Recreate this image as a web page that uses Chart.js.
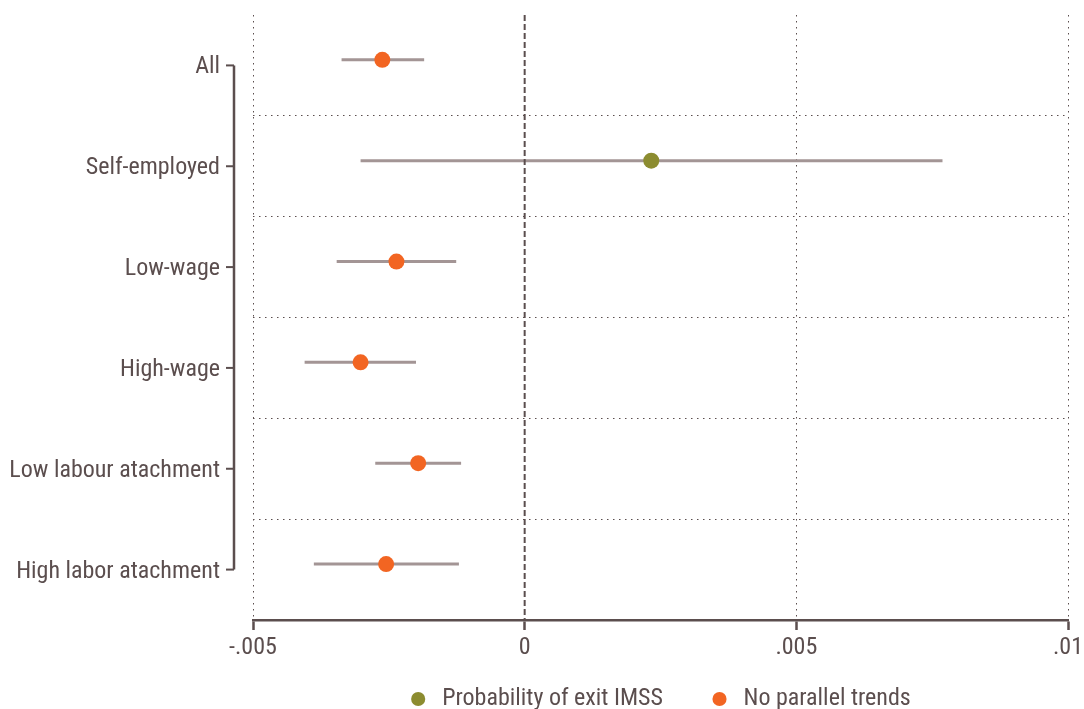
<!DOCTYPE html>
<html lang="en">
	<head>
		<meta charset="UTF-8">
		<title>Coefficient plot</title>
		<script src="https://cdn.jsdelivr.net/npm/chart.js"></script>
		<style>
			html, body { margin: 0; padding: 0; background: #fff; }
			#wrap { width: 1084px; height: 709px; position: relative; }
		</style>
	</head>
	<body>
		<div id="wrap"><canvas id="coefChart"></canvas></div>
		<script>
			// Data
			const categories = ['All', 'Self-employed', 'Low-wage', 'High-wage', 'Low labour atachment', 'High labor atachment'];
			const series = ['Probability of exit IMSS', 'No parallel trends'];
			const seriesOf = [1, 0, 1, 1, 1, 1]; // which series each row belongs to
			const estimates = [-0.00262, 0.00233, -0.00236, -0.00302, -0.00196, -0.00255];
			const ciLow = [-0.00337, -0.00302, -0.00346, -0.00405, -0.00275, -0.00388];
			const ciHigh = [-0.00185, 0.00769, -0.00126, -0.00200, -0.00117, -0.00121];
			const xTicks = [-0.005, 0, 0.005, 0.01];
			const xTickLabels = ['-.005', '0', '.005', '.01'];

			const ink = '#5b4e4e';
			const ciColor = '#a39595';
			const seriesColors = ['#8c8c30', '#f26522'];
			const FONT = "'Roboto Condensed', 'Liberation Sans Narrow', 'DejaVu Sans Condensed', Roboto, sans-serif";
			const markerShift = -0.055; // markers sit a little above the label line

			const rows = categories.map((_, i) => i + 1);

			// one dataset per series so the legend shows both
			const datasets = series.map((name, s) => ({
				label: name,
				data: rows.filter((r, i) => seriesOf[i] === s).map(r => ({ x: estimates[r - 1], y: r + markerShift })),
				backgroundColor: seriesColors[s],
				borderColor: seriesColors[s],
				pointRadius: 8,
				pointHoverRadius: 8,
				pointBorderWidth: 0,
				showLine: false
			}));

			// confidence intervals, drawn underneath the markers
			const ciPlugin = {
				id: 'ci',
				beforeDatasetsDraw(chart) {
					const { ctx, scales: { x, y } } = chart;
					ctx.save();
					ctx.strokeStyle = ciColor;
					ctx.lineWidth = 3;
					rows.forEach((r, i) => {
						const py = y.getPixelForValue(r + markerShift);
						ctx.beginPath();
						ctx.moveTo(x.getPixelForValue(ciLow[i]), py);
						ctx.lineTo(x.getPixelForValue(ciHigh[i]), py);
						ctx.stroke();
					});
					ctx.restore();
				}
			};

			// zero line, the y axis bracket, and legend centred under the plot region
			const axisPlugin = {
				id: 'axes',
				afterLayout(chart) {
					if (chart.legend) chart.legend.left = chart.chartArea.left - 4;
				},
				beforeDatasetsDraw(chart) {
					const { ctx, chartArea, scales: { x } } = chart;
					ctx.save();
					const x0 = x.getPixelForValue(0);
					ctx.strokeStyle = ink;
					ctx.lineWidth = 2;
					ctx.setLineDash([6, 3]);
					ctx.beginPath();
					ctx.moveTo(x0, chartArea.top);
					ctx.lineTo(x0, chartArea.bottom);
					ctx.stroke();
					ctx.restore();
				},
				afterDraw(chart) {
					const { ctx, chartArea, scales: { y } } = chart;
					const ax = chartArea.left - 19;
					ctx.save();
					ctx.strokeStyle = ink;
					ctx.lineWidth = 2.5;
					ctx.beginPath();
					ctx.moveTo(ax, y.getPixelForValue(1));
					ctx.lineTo(ax, y.getPixelForValue(categories.length));
					ctx.stroke();
					ctx.lineWidth = 2;
					rows.forEach(r => {
						const py = y.getPixelForValue(r);
						ctx.beginPath();
						ctx.moveTo(ax - 8, py);
						ctx.lineTo(ax, py);
						ctx.stroke();
					});
					ctx.restore();
				}
			};

			new Chart(document.getElementById('coefChart'), {
				type: 'scatter',
				data: { datasets: datasets },
				options: {
					responsive: true,
					maintainAspectRatio: false,
					animation: false,
					layout: { padding: { left: 10, right: 16, top: 15, bottom: 0 } },
					plugins: {
						tooltip: { enabled: false },
						legend: {
							position: 'bottom',
							maxHeight: 39,
							labels: {
								usePointStyle: true,
								pointStyle: 'circle',
								boxWidth: 24,
								boxHeight: 10,
								padding: 17,
								color: ink,
								font: { family: FONT, size: 24 },
								// trailing spaces widen the gap between the two entries
								generateLabels: chart => Chart.defaults.plugins.legend.labels.generateLabels(chart)
									.map((item, i, all) => i < all.length - 1 ? { ...item, text: item.text + '     ' } : item)
							}
						}
					},
					scales: {
						x: {
							type: 'linear',
							min: -0.005,
							max: 0.01,
							afterBuildTicks: s => { s.ticks = xTicks.map(v => ({ value: v })); },
							ticks: {
								color: ink,
								font: { family: FONT, size: 24 },
								padding: 4,
								maxRotation: 0,
								callback: (v) => xTickLabels[xTicks.indexOf(v)]
							},
							grid: {
								color: ctx => (ctx.tick && ctx.tick.value === 0) ? 'rgba(0,0,0,0)' : ink,
								lineWidth: 1,
								drawTicks: true,
								tickLength: 10,
								tickColor: ink,
								tickWidth: 2.5,
								tickBorderDash: []
							},
							border: { display: true, color: ink, width: 2.5, dash: [1.5, 4.5] },
							afterFit: s => { s.height = 50; s.paddingLeft = 0; s.paddingRight = 0; }
						},
						y: {
							type: 'linear',
							reverse: true,
							min: 0.5,
							max: categories.length + 0.5,
							afterBuildTicks: s => {
								const t = [];
								for (let v = 1; v <= categories.length; v += 0.5) t.push({ value: v });
								s.ticks = t;
							},
							ticks: {
								color: ink,
								font: { family: FONT, size: 24 },
								padding: 33,
								labelOffset: 2,
								autoSkip: false,
								callback: (v) => Number.isInteger(v) ? categories[v - 1] : ''
							},
							grid: {
								color: ctx => (ctx.tick && !Number.isInteger(ctx.tick.value)) ? ink : 'rgba(0,0,0,0)',
								lineWidth: 1,
								drawTicks: false
							},
							border: { display: false, dash: [1.5, 4.5] },
							afterFit: s => { s.width = 243; s.paddingTop = 0; s.paddingBottom = 0; }
						}
					}
				},
				plugins: [ciPlugin, axisPlugin]
			});
		</script>
	</body>
</html>
